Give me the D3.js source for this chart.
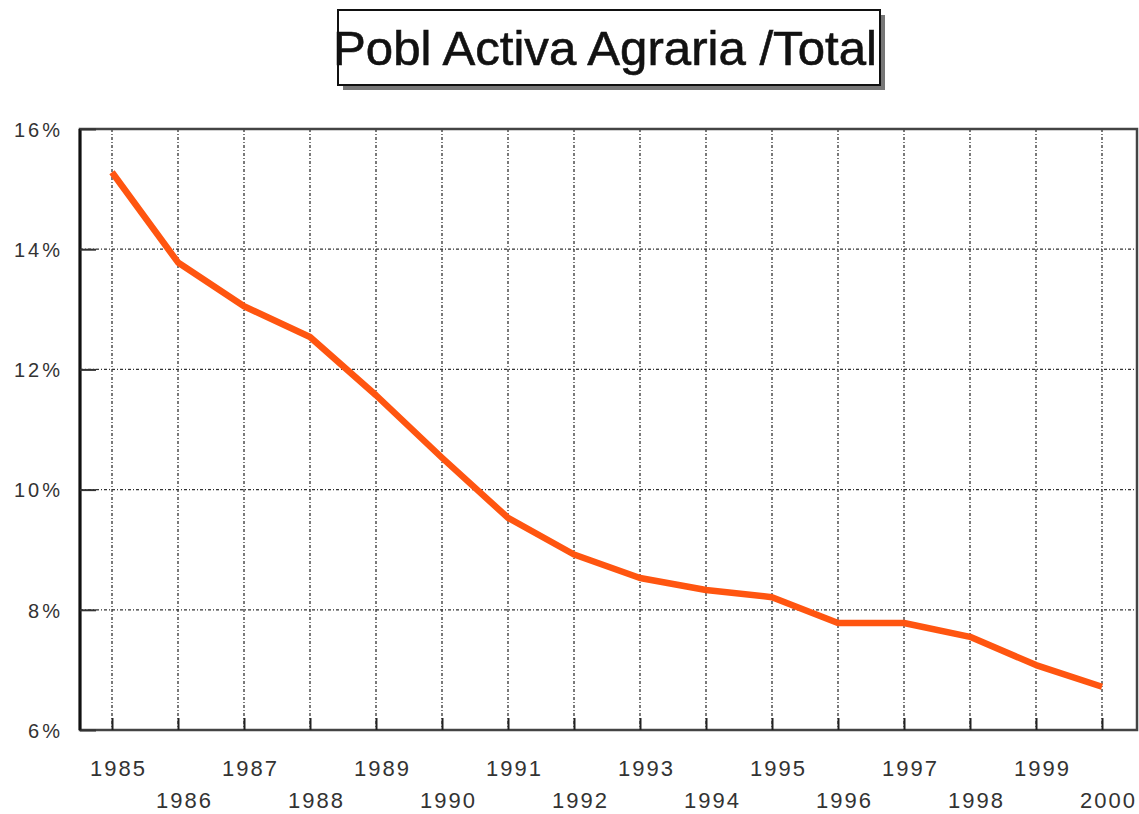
<!DOCTYPE html>
<meta charset="utf-8">
<style>

body {
  margin: 0;
  background: #fff;
}

text {
  font-family: "Liberation Sans", Arial, sans-serif;
}

.grid line {
  stroke: #333;
  stroke-width: 1.3px;
  stroke-dasharray: 3,2,1,2;
}

</style>
<svg></svg>
<script src="https://d3js.org/d3.v7.min.js"></script>
<script>

var years = [1985, 1986, 1987, 1988, 1989, 1990, 1991, 1992,
             1993, 1994, 1995, 1996, 1997, 1998, 1999, 2000];

var share = [15.28, 13.78, 13.05, 12.54, 11.57, 10.53, 9.53, 8.92,
             8.53, 8.33, 8.21, 7.78, 7.78, 7.55, 7.08, 6.72];

var yTicks = [6, 8, 10, 12, 14, 16];

var title = "Pobl Activa Agraria /Total";

var width = 1139,
    height = 814;

// plot box edges (note: "top" is a reserved window global)
var plotLeft = 80, plotRight = 1137, plotTop = 129, plotBottom = 730;

var svg = d3.select("svg")
    .attr("width", width)
    .attr("height", height);

var x = d3.scaleLinear()
    .domain([1985, 2000])
    .range([112, 1102]);

var y = d3.scaleLinear()
    .domain([6, 16])
    .range([plotBottom, plotTop]);

// title box with shadow
svg.append("rect")
    .attr("x", 343).attr("y", 15)
    .attr("width", 542).attr("height", 75)
    .attr("fill", "#777");

svg.append("rect")
    .attr("x", 338).attr("y", 10)
    .attr("width", 542).attr("height", 75)
    .attr("fill", "#fff")
    .attr("stroke", "#111")
    .attr("stroke-width", 2);

svg.append("text")
    .attr("x", 333).attr("y", 65)
    .attr("textLength", 544)
    .attr("lengthAdjust", "spacingAndGlyphs")
    .style("font-size", "48px")
    .style("stroke", "#111")
    .style("stroke-width", 0.6)
    .attr("fill", "#111")
    .text(title);

// grid
var grid = svg.append("g").attr("class", "grid");

grid.selectAll(".vx")
    .data(years)
  .enter().append("line")
    .attr("class", "vx")
    .attr("x1", function(d) { return x(d); })
    .attr("x2", function(d) { return x(d); })
    .attr("y1", plotTop)
    .attr("y2", plotBottom);

grid.selectAll(".hy")
    .data(yTicks.slice(1, -1))
  .enter().append("line")
    .attr("class", "hy")
    .attr("x1", plotLeft)
    .attr("x2", plotRight)
    .attr("y1", function(d) { return y(d); })
    .attr("y2", function(d) { return y(d); });

// frame
svg.append("rect")
    .attr("x", plotLeft).attr("y", plotTop)
    .attr("width", plotRight - plotLeft).attr("height", plotBottom - plotTop)
    .attr("fill", "none")
    .attr("stroke", "#444")
    .attr("stroke-width", 2.5);

svg.append("line")
    .attr("x1", plotLeft).attr("x2", plotLeft)
    .attr("y1", plotTop).attr("y2", plotBottom)
    .attr("stroke", "#111")
    .attr("stroke-width", 3);

// axes with inward ticks
var yAxis = d3.axisLeft(y)
    .tickValues(yTicks)
    .tickSize(-16)
    .tickFormat(function(d) { return d + "%"; });

var gy = svg.append("g")
    .attr("transform", "translate(" + plotLeft + ",0)")
    .call(yAxis);

gy.select(".domain").remove();
gy.selectAll(".tick line").attr("stroke", "#333").attr("stroke-width", 2);
gy.selectAll(".tick text")
    .attr("fill", "#333")
    .style("font-size", "20px")
    .style("letter-spacing", "3px")
    .attr("x", -17)
    .attr("dy", "0.36em");

var xAxis = d3.axisBottom(x)
    .tickValues(years)
    .tickSize(-12)
    .tickFormat(d3.format("d"));

var gx = svg.append("g")
    .attr("transform", "translate(0," + plotBottom + ")")
    .call(xAxis);

gx.select(".domain").remove();
gx.selectAll(".tick line").attr("stroke", "#222").attr("stroke-width", 2);
gx.selectAll(".tick text")
    .attr("fill", "#333")
    .style("font-size", "22px")
    .style("letter-spacing", "2px")
    .attr("dy", null)
    .attr("x", 6)
    .attr("y", function(d, i) { return i % 2 === 0 ? 46 : 78; });

// series line
var line = d3.line()
    .x(function(d, i) { return x(years[i]); })
    .y(function(d) { return y(d); });

svg.append("path")
    .datum(share)
    .attr("d", line)
    .attr("fill", "none")
    .attr("stroke", "#ff5510")
    .attr("stroke-width", 6.5)
    .attr("stroke-linejoin", "round");

</script>
